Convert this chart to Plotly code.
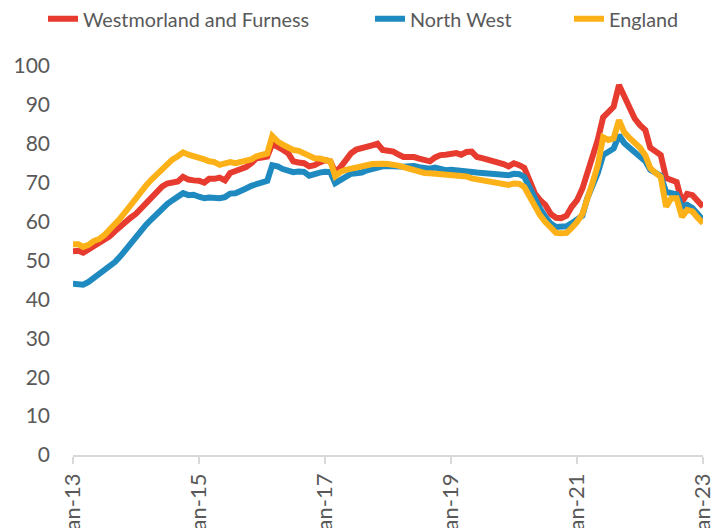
import pandas as pd
import plotly.graph_objects as go

months = pd.date_range("2013-01-01", periods=121, freq="MS")

westmorland = [
    52.4, 52.5, 52.0, 52.8, 53.8, 54.2, 55.0, 56.2, 57.5, 58.8,
    60.0, 61.0, 62.0, 63.5, 64.5, 66.0, 67.5, 69.0, 69.8, 70.0,
    70.3, 71.5, 70.8, 70.6, 70.5, 70.0, 71.0, 71.0, 71.3, 70.6,
    72.5, 73.0, 73.5, 74.0, 75.0, 76.3, 76.5, 76.7, 80.0, 79.0,
    78.5, 77.6, 75.5, 75.2, 75.0, 74.2, 74.5, 75.2, 75.8, 75.5,
    72.7, 74.0, 76.0, 77.6, 78.5, 79.0, 79.3, 79.6, 80.0, 78.4,
    78.2, 78.0, 77.3, 76.6, 76.6, 76.6, 76.2, 76.0, 75.5, 76.5,
    77.1, 77.2, 77.4, 77.6, 77.2, 77.9, 78.0, 76.6, 76.3, 76.0,
    75.6, 75.2, 74.8, 74.2, 75.0, 74.5, 73.8, 70.5, 67.3, 65.5,
    64.3, 62.0, 61.0, 60.9, 61.5, 63.8, 65.5, 68.5, 72.5, 76.6,
    81.0, 86.8, 88.0, 89.5, 95.1, 92.0, 89.0, 86.5, 84.8, 83.5,
    79.0, 78.0, 77.1, 71.2, 70.5, 70.2, 65.0, 67.1, 66.8, 65.3,
    63.8,
]

north_west = [
    44.0, 44.0, 43.8, 44.5, 45.5, 46.2, 47.3, 48.3, 49.6, 51.0,
    52.8, 54.5, 56.2, 57.8, 59.2, 60.6, 62.0, 63.3, 64.5, 65.5,
    66.5, 67.3, 66.8, 66.9, 66.4, 66.0, 66.2, 66.0, 66.0, 66.3,
    67.2, 67.3, 67.8, 68.5, 69.2, 69.6, 70.0, 70.5, 74.5, 74.2,
    73.5, 73.0, 72.7, 72.9, 72.8, 71.8, 72.3, 72.6, 72.8, 72.7,
    69.9, 70.6, 71.6, 72.3, 72.4, 72.6, 73.2, 73.6, 73.9, 74.2,
    74.3, 74.2, 74.0, 74.1, 74.2, 74.3, 74.0, 73.8, 73.6, 73.9,
    73.5, 73.2, 73.3, 73.1, 72.9, 73.0, 72.8, 72.6, 72.5, 72.4,
    72.3, 72.2, 72.0, 71.9, 72.3, 72.2, 71.5, 68.5, 65.5, 63.3,
    61.2, 59.5, 58.6, 58.6, 58.8, 59.6, 60.6, 61.5, 66.0, 69.5,
    72.5, 77.1, 77.8, 78.8, 82.2, 80.2, 79.0, 77.8, 76.8, 75.5,
    73.3, 72.6, 71.8, 67.6, 67.3, 67.0, 63.8, 64.3, 63.5, 62.0,
    60.4,
]

england = [
    54.2, 54.2, 53.5, 54.0, 55.0, 55.5, 56.5, 57.8, 59.2, 60.8,
    62.5, 64.3, 66.0, 67.8, 69.3, 70.8, 72.2, 73.5, 74.8, 76.0,
    76.8, 77.8, 77.2, 76.9, 76.5, 76.0, 75.5, 75.3, 74.6, 74.8,
    75.3, 75.0, 75.3, 75.6, 76.0, 76.8, 77.0, 77.5, 82.0, 80.6,
    79.8, 79.0, 78.4, 78.2, 77.6, 76.6, 76.3, 76.2, 75.9, 75.5,
    71.7, 72.8, 73.3, 73.7, 74.0, 74.2, 74.5, 74.8, 75.0, 74.9,
    74.8, 74.7, 74.4, 74.0, 73.6, 73.2, 73.0, 72.5, 72.4, 72.3,
    71.9, 71.8, 71.8, 71.6, 71.5, 71.6, 71.1, 70.8, 70.5, 70.3,
    70.2, 69.9, 69.5, 69.4, 69.8, 69.7, 68.9, 66.5, 63.8, 61.6,
    59.9, 58.2, 57.1, 57.0, 57.1, 58.4, 59.9, 62.0, 65.5, 70.0,
    74.5, 81.7, 81.0, 81.4, 86.1, 83.0, 81.5, 80.5, 79.0, 77.0,
    73.8, 72.5, 71.5, 63.8, 66.0, 66.0, 61.2, 63.0, 62.6, 61.0,
    59.6,
]

series_names = ["Westmorland and Furness", "North West", "England"]
series_values = [westmorland, north_west, england]
series_colors = ["#E63B2E", "#1F8AC0", "#FBB117"]

x_tick_dates = pd.date_range("2013-01-01", "2023-01-01", freq="24MS")
y_ticks = list(range(0, 101, 10))

FONT = "Lato"
GREY = "#595959"

# page body has an 8px default margin; offsets below compensate for it
OFF = 8
W, H = 724, 528
plot_l, plot_r, plot_t, plot_b = 73, 703, 66, 455  # target window pixels
left = plot_l - OFF
right = W - (plot_r - OFF)
top = plot_t - OFF
bottom = H - (plot_b - OFF)

fig = go.Figure()
legend_ids = ["legend", "legend2", "legend3"]
legend_text_x = [83, 410, 609]
for name, vals, col, lid in zip(series_names, series_values, series_colors, legend_ids):
    fig.add_trace(go.Scatter(
        x=months, y=vals, mode="lines", name=name,
        line=dict(color=col, width=6),
        legend=lid,
    ))

layout_legends = {}
for lid, tx in zip(legend_ids, legend_text_x):
    layout_legends[lid] = dict(
        orientation="h",
        xref="container", yref="container",
        x=(tx - OFF - 40) / W, xanchor="left",
        y=1 - (19 - OFF) / H, yanchor="middle",
        font=dict(family=FONT, size=19.8, color=GREY),
        bgcolor="rgba(0,0,0,0)",
        borderwidth=0,
    )

fig.update_layout(
    width=W, height=H,
    margin=dict(l=left, r=right, t=top, b=bottom, autoexpand=False),
    paper_bgcolor="white", plot_bgcolor="white",
    showlegend=True,
    **layout_legends,
)

fig.update_xaxes(
    type="date",
    range=[months[0], months[-1]],
    tickvals=list(x_tick_dates),
    tickformat="%b-%y",
    tickangle=-90,
    ticks="outside", ticklen=7, tickcolor="#D9D9D9", tickwidth=1.5,
    showline=True, linecolor="#D9D9D9", linewidth=1.5,
    showgrid=False, zeroline=False,
    tickfont=dict(family=FONT, size=22, color=GREY),
    ticklabelstandoff=1,
    automargin=False,
)

fig.update_yaxes(
    range=[0, 100],
    tickvals=y_ticks,
    showgrid=False, zeroline=False, showline=False,
    ticks="",
    tickfont=dict(family=FONT, size=21, color=GREY),
    ticklabelstandoff=22,
    automargin=False,
)

fig.write_html("out.html")
